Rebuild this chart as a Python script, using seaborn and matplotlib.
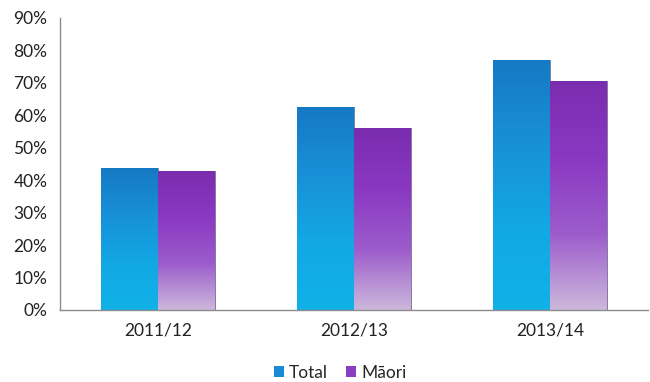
import numpy as np
import pandas as pd
import matplotlib
matplotlib.use('Agg')
import matplotlib.pyplot as plt
from matplotlib.colors import LinearSegmentedColormap
from matplotlib.ticker import PercentFormatter
import seaborn as sns

years = ['2011/12', '2012/13', '2013/14']
total = [43.7, 62.5, 77.1]
maori = [42.9, 56.0, 70.7]
groups = ['Total', 'M\u0101ori']

# gradient colours, top -> bottom
grad_colors = {
    'Total': ['#1679c4', '#1890d8', '#12a8e4', '#10b2e8'],
    'M\u0101ori': ['#7a2cae', '#8a38c2', '#9c5ccc', '#cdb8dc'],
}
swatch = {'Total': '#1a8ad6', 'M\u0101ori': '#8a3ec2'}

df = pd.DataFrame({
    'year': years * 2,
    'group': [groups[0]] * 3 + [groups[1]] * 3,
    'value': total + maori,
})

sns.set_style('white')
plt.rcParams['font.family'] = ['Lato', 'DejaVu Sans']

fig = plt.figure(figsize=(6.5, 3.82), dpi=100)
ax = fig.add_axes([60 / 650, 72 / 382, 588 / 650, 292 / 382])

sns.barplot(data=df, x='year', y='value', hue='group', palette=swatch,
            width=0.58, dodge=True, ax=ax, edgecolor='none', legend=False)

# overlay a vertical gradient on each bar, clipped to the bar
for i, cont in enumerate(ax.containers):
    g = groups[i]
    cmap = LinearSegmentedColormap.from_list(g, grad_colors[g])
    grad = np.linspace(0, 1, 256).reshape(-1, 1)
    for p in cont.patches:
        x0, y0 = p.get_x(), p.get_y()
        w, h = p.get_width(), p.get_height()
        im = ax.imshow(grad, cmap=cmap, aspect='auto',
                       extent=(x0, x0 + w, y0, y0 + h), origin='upper',
                       zorder=p.get_zorder() + 0.1, interpolation='bicubic')
        im.set_clip_path(p)
        p.set_edgecolor('#5a5a7a')
        p.set_linewidth(0.4)

ax.set_xlim(-0.5, 2.5)
ax.set_ylim(0, 90)
ax.set_yticks(range(0, 91, 10))
ax.yaxis.set_major_formatter(PercentFormatter(decimals=0))
ax.set_xlabel('')
ax.set_ylabel('')
ax.tick_params(axis='both', length=0, labelsize=12.5, colors='#222222')
ax.tick_params(axis='y', pad=9)
ax.tick_params(axis='x', pad=9)

for s in ['top', 'right']:
    ax.spines[s].set_visible(False)
for s in ['left', 'bottom']:
    ax.spines[s].set_color('#8c8c8c')
    ax.spines[s].set_linewidth(1.0)

handles = [plt.Rectangle((0, 0), 1, 1, facecolor=swatch[g], edgecolor='none')
           for g in groups]
fig.legend(handles, groups, loc='center', bbox_to_anchor=(340 / 650, 1 - 373 / 382),
           ncol=2, frameon=False, fontsize=12.5, handlelength=0.6, handleheight=0.6,
           handletextpad=0.3, columnspacing=1.0)

fig.savefig('out.png', dpi=100)
